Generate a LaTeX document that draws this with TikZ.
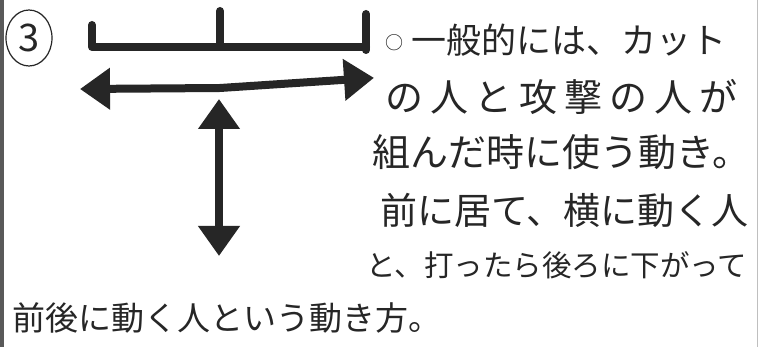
\documentclass[tikz,border=0pt]{standalone}
\usepackage{fontspec}
\newfontfamily\jpfont{Noto Sans CJK JP}
\newfontfamily\jpfontsp{Noto Sans CJK JP}[LetterSpace=18]
\usetikzlibrary{arrows.meta}
\tikzset{
  ink/.style={draw=black!85, line width=8pt, line cap=round, line join=round},
  bigarrow/.style={ink, {Triangle[width=40pt,length=30pt]}-{Triangle[width=40pt,length=30pt]}, shorten <=-2pt, shorten >=-2pt},
  handtext/.style={anchor=west, inner sep=0pt, text=black!85},
}
\begin{document}
\begin{tikzpicture}[x=1pt,y=-1pt]
\useasboundingbox (0,0) rectangle (758,347);
\fill[white] (0,0) rectangle (758,347);
% page borders
\fill[black!65] (0,0) rectangle (4,347);
\draw[black!25, line width=1pt] (757.5,0) -- (757.5,347);
% circled number
\node[inner sep=0pt, text=black!85, font=\jpfont\fontsize{38}{38}\selectfont] (num) at (29,38) {3};
\draw[black!85, line width=1.2pt] (num.center) ellipse [x radius=23pt, y radius=28pt];
% top bar with ticks
\coordinate (b1) at (92,25);
\coordinate (b2) at (92,47);
\coordinate (b3) at (366,47);
\coordinate (b4) at (366,14);
\coordinate (b5) at (366,50);
\coordinate (m1) at (220,11);
\coordinate (m2) at (220,47);
\draw[ink] (b1) -- (b2) -- (b3);
\draw[ink] (b4) -- (b5);
\draw[ink] (m1) -- (m2);
% horizontal double arrow
\coordinate (hl) at (82,89);
\coordinate (hm) at (220,88);
\coordinate (hr) at (372,78);
\draw[bigarrow] (hl) -- (hm) -- (hr);
% vertical double arrow
\coordinate (vt) at (219,101);
\coordinate (vb) at (219,254);
\draw[bigarrow] (vt) -- (vb);
% text
\node[handtext, font=\jpfont\fontsize{35}{35}\selectfont] (t1) at (385,40) {\raisebox{4pt}{\fontsize{18}{18}\selectfont ○}\hspace{8pt}一般的には、カット};
\node[handtext, font=\jpfontsp\fontsize{38}{38}\selectfont] (t2) at (385,97) {の人と攻撃の人が};
\node[handtext, font=\jpfont\fontsize{38}{38}\selectfont] (t3) at (372,152) {組んだ時に使う動き。};
\node[handtext, font=\jpfont\fontsize{37}{37}\selectfont] (t4) at (380,210) {前に居て、横に動く人};
\node[handtext, font=\jpfont\fontsize{29.5}{29.5}\selectfont] (t5) at (366,265) {と、打ったら後ろに下がって};
\node[handtext, font=\jpfont\fontsize{33}{33}\selectfont] (t6) at (12,318) {前後に動く人という動き方。};
\end{tikzpicture}
\end{document}
